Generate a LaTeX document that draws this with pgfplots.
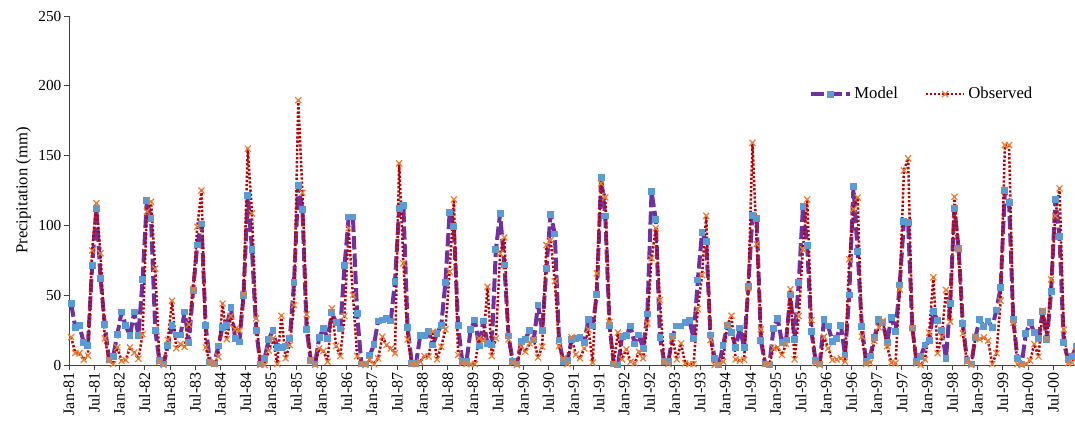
\documentclass[border=0pt]{standalone}
\usepackage{pgfplots}
\pgfplotsset{compat=1.18}
\usepackage{pgfplotstable}
\usepackage{fontspec}
\setmainfont{Liberation Serif}

\definecolor{modelline}{HTML}{7030A0}
\definecolor{modelmark}{HTML}{5B9BD5}
\definecolor{obsline}{HTML}{C00000}
\definecolor{obsmark}{HTML}{ED7D31}
\definecolor{axisgray}{HTML}{404040}

% Monthly precipitation (mm), Jan 1981 onwards: model (m) and observed (o)
\pgfplotstableread{
m o
44 20
27 8.6
28 8.4
16 3.8
14 6.7
71 82
112 116
62 80
29 19
3.6 3.6
6 0.7
22 12.6
38 2.9
28 3.6
21 12.6
38 8.8
21 4.5
61 22
118 110
105 117
25 69
3 2.4
0.7 0
14 18
28 46
21.5 12
21.5 15
38 13
16 29
53.5 54
86 99
101 125
28 12.6
2 1.7
0.7 0.7
13.6 6
27 44
28 18.4
41 35
19 25.5
16.5 24.6
50 51
121.5 155
83 108.6
25 33.4
0.7 0
4.8 0
18.4 10.3
25 19
12.4 0.7
12.4 35.3
13.6 4.8
19 14.3
59 43
128.4 189.7
111.5 123.4
25.5 36.3
3.1 3.6
0.7 0
19.8 11.9
26.3 10
19 2.4
37.4 40.6
30.5 13.6
25.8 6.4
71 35
106 98
106 50
37 6.4
0.7 0.7
0.7 0
6.7 3.6
14.6 0.7
31.5 4.8
32.2 20.3
33.2 14.3
31.5 11.9
59.7 8.4
112 144.4
114 72.8
26.7 18.4
1.2 0.7
1 0.7
21 2.4
21 6.4
24 6
14.3 23.9
22.7 4
28.4 13.1
59.2 25.5
109.5 66.8
99 118.6
28.6 7.2
2.4 1.2
2.4 0.7
25.5 0.7
32.2 0.7
13.6 19
31.5 17.4
15.5 56
14.3 6.4
82.8 19
108.6 80
71.6 91.4
20.8 18.4
2.4 1.7
0.7 0
16.7 13.1
18.4 9.5
25 15.5
17.9 18.4
43 5.3
24.6 13.1
69 85.9
108 89.5
93.8 60
17.9 13.6
2.4 4.8
3.1 0.7
18.4 20
19 7.5
20 4.8
16.2 11.9
32.7 25.5
27.9 1.7
50.8 65.6
134.4 130
106.7 120
28.6 31
0.7 0.7
0 23.2
20.3 4
21 11.2
27.9 2.4
15 1.2
21.5 9.5
11.9 4.8
36.5 29.8
124 76.4
104.3 97.9
19.8 46.5
2.4 2.4
2.4 0.7
20.8 19.1
27.9 4
27.9 15.5
30.5 1.2
31.7 0.7
19.1 0.7
60.9 40.1
95 64.4
88.3 106.9
21.5 17.9
4.8 0
0 0.7
13.8 2.4
28.6 28.6
23.4 35.3
12.6 4
26.5 3.1
12.5 3.8
56 55
107.4 159.2
105 86.6
17.4 25.5
0.7 0.7
0 0.7
26.3 11.9
33.4 12.6
16 7.2
17.9 15
50.1 54.2
18.4 4
59 35.1
113.4 82.8
85.9 118.6
23.9 32.2
3.1 1.7
0.7 0
32.7 20.3
27.9 11.9
16.7 3.6
19.1 4
28.6 4.8
7.2 2.4
50.1 75.7
127.7 111.5
81.1 120
27.4 20.3
2.4 0.7
6.4 1.7
19.6 17.4
32.7 27
30.5 31.7
16 13.6
34.1 1.7
23.9 1.2
57.3 54.2
103 139.4
102 148
26.5 26.3
2.4 1
6 0
14.3 4
17.4 23.2
38.2 62.8
31.7 8.4
25 20.3
4.8 53.7
44.2 31
112.2 120.5
83.5 82.8
29.8 22.7
3.1 2.4
0.7 0
19.8 20.3
32.7 18.4
27.4 19.8
31.5 17.4
27 0.7
39.4 8.4
55.6 46.1
124.8 157.5
116.2 157.5
32.7 30.3
4.8 0.7
0.7 0
22.7 0.7
30.3 3.1
23.4 15
19.1 6
38.2 38.9
18.4 19.1
52.5 61.3
118.6 106.7
91.9 126.5
16 25.5
4 1.2
6 1.7
13.6 10
}\precip

\begin{document}
\begin{tikzpicture}
\useasboundingbox (0,0) rectangle (806.25pt,318.75pt);
\begin{axis}[
  at={(51.75pt,45pt)}, anchor=south west,
  scale only axis, width=757.1pt, height=261.75pt,
  xmin=0, xmax=240, ymin=0, ymax=250,
  axis lines=left,
  axis line style={-, axisgray, line width=0.6pt},
  clip=false,
  tick align=outside,
  major tick length=3.5pt,
  tick style={axisgray, line width=0.6pt},
  ytick={0,50,...,250},
  xtick={0,6,...,234},
  xticklabels={Jan-81,Jul-81,Jan-82,Jul-82,Jan-83,Jul-83,Jan-84,Jul-84,Jan-85,Jul-85,
               Jan-86,Jul-86,Jan-87,Jul-87,Jan-88,Jul-88,Jan-89,Jul-89,Jan-90,Jul-90,
               Jan-91,Jul-91,Jan-92,Jul-92,Jan-93,Jul-93,Jan-94,Jul-94,Jan-95,Jul-95,
               Jan-96,Jul-96,Jan-97,Jul-97,Jan-98,Jul-98,Jan-99,Jul-99,Jan-00,Jul-00},
  xticklabel style={rotate=90, anchor=east, font=\fontsize{12}{14}\selectfont, inner sep=2pt},
  yticklabel style={font=\fontsize{11.5}{13}\selectfont, inner sep=2pt},
  /pgf/number format/assume math mode=true,
  ylabel={Precipitation (mm)},
  ylabel style={font=\fontsize{12.5}{14}\selectfont},
  legend columns=2,
  legend style={draw=none, fill=none, at={(0.845,0.776)}, anchor=center,
                font=\fontsize{12.5}{14}\selectfont,
                /tikz/every even column/.append style={column sep=18pt}},
  legend image code/.code={\draw[mark repeat=2, mark phase=2, #1]
      plot coordinates {(0pt,0pt) (14.5pt,0pt) (29pt,0pt)};},
]
\addplot[modelline, line width=3pt, line join=round, dash pattern=on 10pt off 3pt,
         mark=square*, mark size=2.2pt,
         mark options={solid, fill=modelmark, draw=modelmark, line width=0pt}]
  table[x expr=\coordindex+0.5, y=m]{\precip};
\addplot[obsline, line width=1.9pt, line join=round, dash pattern=on 1.7pt off 1.4pt,
         mark=x, mark size=3.2pt,
         mark options={solid, draw=obsmark, line width=0.9pt}]
  table[x expr=\coordindex+0.5, y=o]{\precip};
\legend{Model, Observed}
\end{axis}
\end{tikzpicture}
\end{document}
